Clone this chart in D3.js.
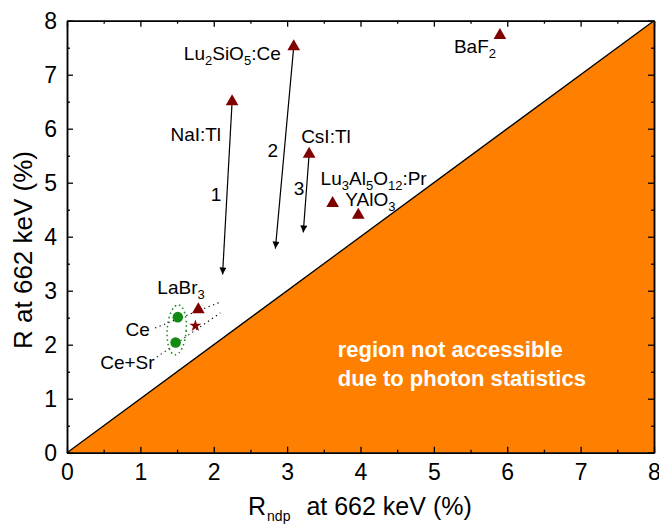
<!DOCTYPE html>
<html>
<head>
<meta charset="utf-8">
<script src="https://cdn.jsdelivr.net/npm/d3@7"></script>
<style>
  body { margin: 0; background: #fff; }
  svg { display: block; font-family: "Liberation Sans", Arial, sans-serif; }
</style>
</head>
<body>
<svg id="chart" width="659" height="526"></svg>
<script>
// 数据
const crystals = ["NaI:Tl", "Lu2SiO5:Ce", "CsI:Tl", "Lu3Al5O12:Pr", "YAlO3", "BaF2", "LaBr3"];
const rNdp = [2.25, 3.09, 3.30, 3.62, 3.97, 5.90, 1.79];
const rMeas = [6.50, 7.52, 5.53, 4.62, 4.40, 7.73, 2.65];

// LaBr3 co-doped
const ceLabels = ["Ce", "Ce+Sr"];
const ceNdp = [1.51, 1.48];
const ceMeas = [2.51, 2.04];
const starNdp = [1.75];
const starMeas = [2.35];

// arrows 1,2,3 : from crystal -> to point
const arrowNames = ["1", "2", "3"];
const arrowFrom = [0, 1, 2];
const arrowToX = [2.12, 2.84, 3.22];
const arrowToY = [3.30, 3.78, 4.08];

// dotted guide lines through LaBr3 points
const guideX1 = [1.20, 1.17], guideY1 = [2.31, 1.72];
const guideX2 = [2.07, 2.09], guideY2 = [2.78, 2.59];

const xTicks = [0, 1, 2, 3, 4, 5, 6, 7, 8];
const yTicks = [0, 1, 2, 3, 4, 5, 6, 7, 8];

// 参数设定
const mLeft = 67, mRight = 654, mTop = 20.7, mBottom = 452.7;
const font = "Liberation Sans, Arial, sans-serif";
const darkRed = "#800000";
const green = "#138a13";
const orange = "#ff8000";

const svg = d3.select("#chart");
const x = d3.scaleLinear().domain([0, 8]).range([mLeft, mRight]);
const y = d3.scaleLinear().domain([0, 8]).range([mBottom, mTop]);

// label parts: [text, subscript?]
function parts(name) {
  const out = [];
  name.replace(/([A-Za-z:+]+)|(\d+)/g, (m, a, b) => { out.push([m, !!b]); });
  return out;
}
// label offsets (px) relative to marker
const labelLayout = {
  "NaI:Tl": {dx: -11, dy: 39, anchor: "end"},
  "Lu2SiO5:Ce": {dx: -13, dy: 13, anchor: "end"},
  "CsI:Tl": {dx: -8, dy: -11, anchor: "start"},
  "Lu3Al5O12:Pr": {dx: -12, dy: -18, anchor: "start"},
  "YAlO3": {dx: -13, dy: -9, anchor: "start"},
  "BaF2": {dx: -46, dy: 18, anchor: "start"},
  "LaBr3": {dx: -41, dy: -16, anchor: "start"},
  "Ce": {dx: -28, dy: 19, anchor: "end"},
  "Ce+Sr": {dx: -21, dy: 26, anchor: "end"}
};

// 不可达区域
svg.append("path")
  .attr("d", d3.line()([[x(0), y(0)], [x(8), y(8)], [x(8), y(0)]]) + "Z")
  .attr("fill", orange);
svg.append("line")
  .attr("x1", x(0)).attr("y1", y(0)).attr("x2", x(8)).attr("y2", y(8))
  .attr("stroke", "#000").attr("stroke-width", 1.3);

svg.append("text")
  .attr("fill", "#fff").attr("font-weight", "bold").attr("font-size", 22)
  .selectAll("tspan").data(["region not accessible", "due to photon statistics"])
  .join("tspan")
  .attr("x", x(3.69)).attr("y", (d, i) => 357 + i * 29)
  .text(d => d);

// axes
function styleAxis(g) {
  g.select(".domain").attr("stroke", "#000").attr("stroke-width", 1.5);
  g.selectAll(".tick line").attr("stroke", "#000").attr("stroke-width", 1.3);
  g.selectAll("text").attr("font-family", font).attr("font-size", 23).attr("fill", "#000");
}
const halves = d3.range(0.5, 8, 1);
svg.append("g").attr("transform", `translate(0,${mBottom})`)
  .call(d3.axisBottom(x).tickValues(xTicks).tickFormat(d3.format("d")).tickSize(-6).tickSizeOuter(0).tickPadding(11))
  .call(styleAxis);
svg.append("g").attr("transform", `translate(0,${mBottom})`)
  .call(d3.axisBottom(x).tickValues(halves).tickFormat("").tickSize(-3).tickSizeOuter(0))
  .call(styleAxis);
svg.append("g").attr("transform", `translate(${mLeft},0)`)
  .call(d3.axisLeft(y).tickValues(yTicks).tickFormat(d3.format("d")).tickSize(-6).tickSizeOuter(0).tickPadding(10))
  .call(styleAxis);
svg.append("g").attr("transform", `translate(${mLeft},0)`)
  .call(d3.axisLeft(y).tickValues(halves).tickFormat("").tickSize(-3).tickSizeOuter(0))
  .call(styleAxis);
svg.append("g").attr("transform", `translate(0,${mTop})`)
  .call(d3.axisTop(x).tickValues(xTicks).tickFormat("").tickSize(-6).tickSizeOuter(0))
  .call(styleAxis);
svg.append("g").attr("transform", `translate(0,${mTop})`)
  .call(d3.axisTop(x).tickValues(halves).tickFormat("").tickSize(-3).tickSizeOuter(0))
  .call(styleAxis);
svg.append("g").attr("transform", `translate(${mRight},0)`)
  .call(d3.axisRight(y).tickValues(yTicks).tickFormat("").tickSize(-6).tickSizeOuter(0))
  .call(styleAxis);
svg.append("g").attr("transform", `translate(${mRight},0)`)
  .call(d3.axisRight(y).tickValues(halves).tickFormat("").tickSize(-3).tickSizeOuter(0))
  .call(styleAxis);

// axis titles
svg.append("text")
  .attr("transform", `translate(32,250) rotate(-90)`)
  .attr("text-anchor", "middle").attr("font-size", 26)
  .text("R at 662 keV (%)");
const xt = svg.append("text").attr("x", 248).attr("y", 515).attr("font-size", 25);
xt.append("tspan").text("R");
xt.append("tspan").attr("font-size", 14).attr("dy", 6).attr("dx", 1).text("ndp");
xt.append("tspan").attr("dy", -6).attr("dx", 16).text("at 662 keV (%)");

// arrows
svg.append("defs").append("marker")
  .attr("id", "head").attr("viewBox", "0 0 10 10").attr("refX", 10).attr("refY", 5)
  .attr("markerWidth", 11).attr("markerHeight", 7).attr("markerUnits", "userSpaceOnUse")
  .attr("orient", "auto")
  .append("path").attr("d", "M0,0L10,5L0,10Z").attr("fill", "#000");

arrowNames.forEach((n, i) => {
  const k = arrowFrom[i];
  svg.append("line")
    .attr("x1", x(rNdp[k])).attr("y1", y(rMeas[k]))
    .attr("x2", x(arrowToX[i])).attr("y2", y(arrowToY[i]))
    .attr("stroke", "#000").attr("stroke-width", 1.2)
    .attr("marker-end", "url(#head)");
});
const numPos = [[-16, 99], [-21, 110], [-10, 41]]; // px offsets of arrow numbers from start
arrowNames.forEach((n, i) => {
  const k = arrowFrom[i];
  svg.append("text")
    .attr("x", x(rNdp[k]) + numPos[i][0]).attr("y", y(rMeas[k]) + numPos[i][1])
    .attr("text-anchor", "middle").attr("font-size", 19).text(n);
});

// dotted guides
guideX1.forEach((d, i) => {
  svg.append("line")
    .attr("x1", x(guideX1[i])).attr("y1", y(guideY1[i]))
    .attr("x2", x(guideX2[i])).attr("y2", y(guideY2[i]))
    .attr("stroke", "#000").attr("stroke-width", 1.1).attr("stroke-dasharray", "1.3,3.5");
});

// green dotted ellipse around Ce points
const ecx = x(d3.mean(ceNdp)), ecy = y(d3.mean(ceMeas));
svg.append("ellipse")
  .attr("cx", ecx).attr("cy", ecy)
  .attr("rx", 9.5).attr("ry", 25)
  .attr("transform", `rotate(4,${ecx},${ecy})`)
  .attr("fill", "none").attr("stroke", green).attr("stroke-width", 1.5)
  .attr("stroke-dasharray", "1.5,3");

// markers
svg.selectAll(".tri").data(crystals).join("path")
  .attr("transform", (d, i) => `translate(${x(rNdp[i])},${y(rMeas[i])})`)
  .attr("d", d3.symbol(d3.symbolTriangle, 70))
  .attr("fill", darkRed);
svg.selectAll(".ce").data(ceLabels).join("circle")
  .attr("cx", (d, i) => x(ceNdp[i])).attr("cy", (d, i) => y(ceMeas[i]))
  .attr("r", 5.3).attr("fill", green);
svg.selectAll(".star").data(starNdp).join("path")
  .attr("transform", (d, i) => `translate(${x(d)},${y(starMeas[i])})`)
  .attr("d", d3.symbol(d3.symbolStar, 45))
  .attr("fill", darkRed);

// labels
function label(name, px, py) {
  const L = labelLayout[name];
  const t = svg.append("text")
    .attr("x", px + L.dx).attr("y", py + L.dy)
    .attr("text-anchor", L.anchor).attr("font-size", 19).attr("fill", "#000");
  let prevSub = false;
  parts(name).forEach(([s, sub]) => {
    const ts = t.append("tspan").text(s);
    if (sub && !prevSub) ts.attr("font-size", 13).attr("dy", 5);
    if (!sub && prevSub) ts.attr("dy", -5);
    prevSub = sub;
  });
}
crystals.forEach((c, i) => label(c, x(rNdp[i]), y(rMeas[i])));
ceLabels.forEach((c, i) => label(c, x(ceNdp[i]), y(ceMeas[i])));
</script>
</body>
</html>
